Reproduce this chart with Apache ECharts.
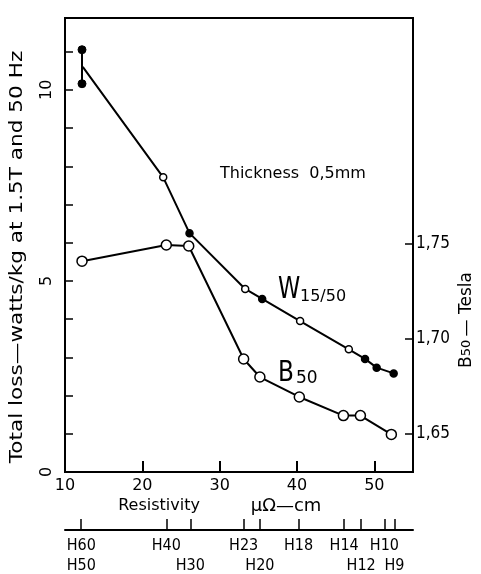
<!DOCTYPE html>
<html><head><meta charset="utf-8">
<script src="https://cdn.jsdelivr.net/npm/echarts@6/dist/echarts.min.js"></script>
<style>html,body{margin:0;padding:0;background:#fff}#c{width:481px;height:574px}</style>
</head><body><div id="c"></div>
<script>
// Total loss W15/50 (W/kg) vs resistivity (µΩ-cm)
const lossX = [12.3, 22.7, 26.1, 33.3, 35.5, 40.4, 46.7, 48.8, 50.3, 52.5];
const lossY = [10.6, 7.71, 6.25, 4.79, 4.53, 3.95, 3.21, 2.96, 2.73, 2.58];
const lossMarker = ['none', 'open', 'filled', 'open', 'filled', 'open', 'open', 'filled', 'filled', 'filled'];
// Scatter range at the lowest resistivity grade
const spreadX = [12.2, 12.2];
const spreadY = [11.05, 10.16];
// B50 (Tesla) vs resistivity
const bX = [12.2, 23.1, 26.0, 33.1, 35.2, 40.3, 46.0, 48.2, 52.2];
const bY = [1.741, 1.7495, 1.749, 1.6895, 1.680, 1.6695, 1.6597, 1.6597, 1.6498];
// Grade scale below the resistivity axis
const gradeX = [12.1, 23.1, 26.2, 33.1, 35.2, 40.2, 46.1, 48.3, 51.3, 52.6];
const gradeRow1 = ['H60', 'H40', '', 'H23', '', 'H18', 'H14', '', 'H10', ''];
const gradeRow2 = ['H50', '', 'H30', '', 'H20', '', '', 'H12', '', 'H9'];
// Right axis tick labels
const bTicks = [1.65, 1.70, 1.75];
const bTickLabels = ['1,65', '1,70', '1,75'];

const SANS = 'DejaVu Sans, sans-serif';
const NARROW = '"Liberation Sans Narrow", "DejaVu Sans Condensed", "Liberation Sans", sans-serif';

const chart = echarts.init(document.getElementById('c'), null, {renderer: 'canvas'});
const blk = '#000';

const lossData = lossX.map((x, i) => {
  const m = lossMarker[i];
  if (m === 'none') return {value: [x, lossY[i]], symbol: 'none'};
  return {value: [x, lossY[i]], itemStyle: {color: m === 'filled' ? blk : '#fff'}};
});

const row1Vals = gradeX.filter((g, i) => gradeRow1[i] !== '');
const row2Vals = gradeX.filter((g, i) => gradeRow2[i] !== '');
function gradeLabel(row) {
  return v => {
    const i = gradeX.findIndex(g => Math.abs(g - v) < 1e-6);
    return i < 0 ? '' : row[i];
  };
}

const option = {
  animation: false,
  backgroundColor: '#fff',
  grid: {left: 65, right: 68, top: 18, bottom: 102, show: true, borderColor: blk, borderWidth: 2},
  xAxis: [{
    type: 'value', min: 10, max: 55, interval: 10,
    axisLine: {show: true, lineStyle: {color: blk, width: 2}},
    axisTick: {show: true, inside: true, length: 11, lineStyle: {color: blk, width: 2}},
    axisLabel: {color: blk, fontFamily: SANS, fontSize: 16, margin: 6,
      formatter: v => (v > 54 ? '' : String(v))},
    splitLine: {show: false}
  }, {
    type: 'value', min: 10, max: 55, position: 'bottom', offset: 58,
    axisLine: {show: true, lineStyle: {color: blk, width: 2}},
    axisTick: {show: true, inside: true, length: 11, customValues: gradeX, lineStyle: {color: blk, width: 1.5}},
    axisLabel: {color: blk, fontFamily: NARROW, fontSize: 16, margin: 8,
      customValues: row1Vals, hideOverlap: false, formatter: gradeLabel(gradeRow1)},
    splitLine: {show: false}
  }, {
    type: 'value', min: 10, max: 55, position: 'bottom', offset: 58,
    axisLine: {show: false}, axisTick: {show: false},
    axisLabel: {color: blk, fontFamily: NARROW, fontSize: 16, margin: 28,
      customValues: row2Vals, hideOverlap: false, formatter: gradeLabel(gradeRow2)},
    splitLine: {show: false}
  }],
  yAxis: [{
    type: 'value', min: 0, max: 11.88, interval: 1,
    axisLine: {show: true, lineStyle: {color: blk, width: 2}},
    axisTick: {show: true, inside: true, length: 8, lineStyle: {color: blk, width: 1.5}},
    axisLabel: {color: blk, fontFamily: SANS, fontSize: 16, rotate: 90, margin: 10,
      showMaxLabel: false,
      formatter: v => (v % 5 === 0 ? String(v) : '')},
    splitLine: {show: false}
  }, {
    type: 'value', min: 1.63, max: 1.869, position: 'right',
    axisLine: {show: true, lineStyle: {color: blk, width: 2}},
    axisTick: {show: true, inside: true, length: 8, customValues: bTicks, lineStyle: {color: blk, width: 1.5}},
    axisLabel: {color: blk, fontFamily: NARROW, fontSize: 17, margin: 3, customValues: bTicks,
      formatter: v => {
        const i = bTicks.findIndex(t => Math.abs(t - v) < 1e-6);
        return i < 0 ? '' : bTickLabels[i];
      }},
    splitLine: {show: false}
  }],
  series: [{
    name: 'W15/50', type: 'line', xAxisIndex: 0, yAxisIndex: 0,
    data: lossData, symbol: 'circle', symbolSize: 7,
    lineStyle: {color: blk, width: 2},
    itemStyle: {color: '#fff', borderColor: blk, borderWidth: 1.5}
  }, {
    name: 'spread', type: 'line', xAxisIndex: 0, yAxisIndex: 0,
    data: spreadX.map((x, i) => [x, spreadY[i]]), symbol: 'circle', symbolSize: 8,
    lineStyle: {color: blk, width: 2},
    itemStyle: {color: blk, borderColor: blk, borderWidth: 1}
  }, {
    name: 'B50', type: 'line', xAxisIndex: 0, yAxisIndex: 1,
    data: bX.map((x, i) => [x, bY[i]]), symbol: 'circle', symbolSize: 10,
    lineStyle: {color: blk, width: 2},
    itemStyle: {color: '#fff', borderColor: blk, borderWidth: 1.5}
  }],
  graphic: [
    {type: 'text', left: 220, top: 166, style: {text: 'Thickness  0,5mm', fill: blk, font: '16px ' + SANS}},
    {type: 'text', x: 278, y: 305, scaleX: 0.75, style: {text: 'W', fill: blk, font: '30px ' + SANS, textVerticalAlign: 'bottom'}},
    {type: 'text', x: 300, y: 305, style: {text: '15/50', fill: blk, font: '16px ' + SANS, textVerticalAlign: 'bottom'}},
    {type: 'text', x: 278, y: 388, scaleX: 0.8, style: {text: 'B', fill: blk, font: '29px ' + SANS, textVerticalAlign: 'bottom'}},
    {type: 'text', x: 296, y: 387, style: {text: '50', fill: blk, font: '17px ' + SANS, textVerticalAlign: 'bottom'}},
    {type: 'text', x: 159, y: 506, style: {text: 'Resistivity', fill: blk, font: '16px ' + SANS, textAlign: 'center', textVerticalAlign: 'middle'}},
    {type: 'text', x: 286, y: 506, style: {text: 'μΩ—cm', fill: blk, font: '18px ' + SANS, textAlign: 'center', textVerticalAlign: 'middle'}},
    {type: 'text', x: 17, y: 257, rotation: Math.PI / 2, scaleX: 1.2, style: {text: 'Total loss—watts/kg at 1.5T and 50 Hz', fill: blk, font: '18px ' + SANS, textAlign: 'center', textVerticalAlign: 'middle'}},
    {type: 'text', x: 467, y: 320, rotation: Math.PI / 2, style: {
      text: '{b|B}{s|50} {b|— Tesla}', textAlign: 'center', textVerticalAlign: 'middle',
      rich: {b: {fill: blk, font: '17px ' + SANS}, s: {fill: blk, font: '13px ' + SANS}}
    }}
  ]
};
chart.setOption(option);
</script>
</body></html>
